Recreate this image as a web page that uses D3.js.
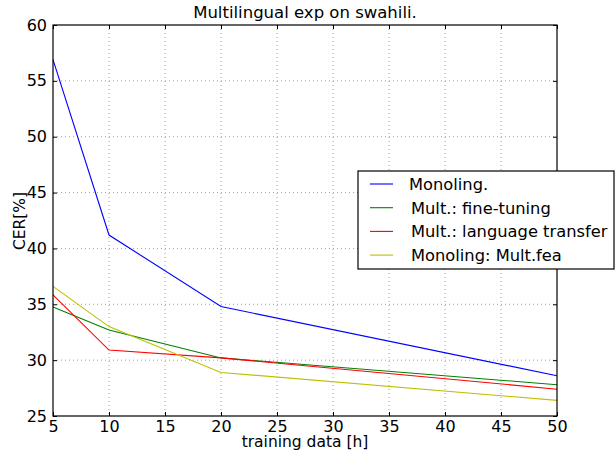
<!DOCTYPE html>
<html>
<head>
<meta charset="utf-8">
<title>Multilingual exp on swahili.</title>
<script src="https://d3js.org/d3.v7.min.js"></script>
<style>
  body { margin: 0; background: #fff; }
  text { font-family: "DejaVu Sans", sans-serif; fill: #000; }
</style>
</head>
<body>
<svg width="615" height="450"></svg>
<script>
// data
const hours = [5, 10, 20, 50]
const seriesNames = ["Monoling.", "Mult.: fine-tuning", "Mult.: language transfer", "Monoling: Mult.fea"]
const monoling = [56.9, 41.2, 34.8, 28.6]
const fineTuning = [34.75, 32.7, 30.2, 27.8]
const langTransfer = [35.85, 30.9, 30.2, 27.4]
const multFea = [36.6, 33.0, 28.9, 26.4]
const xTicks = [5, 10, 15, 20, 25, 30, 35, 40, 45, 50]
const yTicks = [25, 30, 35, 40, 45, 50, 55, 60]

const colors = ["#0000ff", "#008000", "#ff0000", "#bfbf00"]
const allSeries = [monoling, fineTuning, langTransfer, multFea]

const svg = d3.select("svg")
const margin = { top: 25, right: 58, bottom: 34, left: 53 }
const width = +svg.attr("width")
const height = +svg.attr("height")
const innerWidth = width - margin.left - margin.right
const innerHeight = height - margin.top - margin.bottom

const x = d3.scaleLinear().domain([5, 50]).range([0, innerWidth])
const y = d3.scaleLinear().domain([25, 60]).range([innerHeight, 0])

const g = svg.append("g").attr("transform", `translate(${margin.left},${margin.top})`)

// grid
g.selectAll(".gx").data(xTicks.slice(1, -1)).enter().append("line")
  .attr("x1", d => x(d)).attr("x2", d => x(d))
  .attr("y1", 0).attr("y2", innerHeight)
  .attr("stroke", "#888").attr("stroke-width", 0.8).attr("stroke-dasharray", "1,3")
g.selectAll(".gy").data(yTicks.slice(1, -1)).enter().append("line")
  .attr("y1", d => y(d)).attr("y2", d => y(d))
  .attr("x1", 0).attr("x2", innerWidth)
  .attr("stroke", "#888").attr("stroke-width", 0.8).attr("stroke-dasharray", "1,3")

// axes, ticks inward on all sides
const axisStyle = sel => {
  sel.select(".domain").remove()
  sel.selectAll("text").style("font-size", "16px").style("font-family", "DejaVu Sans, sans-serif")
  sel.selectAll("line").attr("stroke", "#000")
}
g.append("g").attr("transform", `translate(0,${innerHeight})`)
  .call(d3.axisBottom(x).tickValues(xTicks).tickSizeInner(-4).tickSizeOuter(0).tickPadding(5))
  .call(axisStyle)
g.append("g")
  .call(d3.axisTop(x).tickValues(xTicks).tickSizeInner(-4).tickSizeOuter(0).tickFormat(""))
  .call(axisStyle)
g.append("g")
  .call(d3.axisLeft(y).tickValues(yTicks).tickSizeInner(-4).tickSizeOuter(0).tickPadding(6))
  .call(axisStyle)
g.append("g").attr("transform", `translate(${innerWidth},0)`)
  .call(d3.axisRight(y).tickValues(yTicks).tickSizeInner(-4).tickSizeOuter(0).tickFormat(""))
  .call(axisStyle)

// lines
const line = d3.line().x((d, i) => x(hours[i])).y(d => y(d))
g.selectAll(".series").data(allSeries).enter().append("path")
  .attr("d", d => line(d))
  .attr("fill", "none")
  .attr("stroke", (d, i) => colors[i])
  .attr("stroke-width", 1.1)

// frame
g.append("rect").attr("width", innerWidth).attr("height", innerHeight)
  .attr("fill", "none").attr("stroke", "#000").attr("stroke-width", 1.2)

// title and labels
svg.append("text").attr("x", margin.left + innerWidth / 2).attr("y", 18)
  .attr("text-anchor", "middle").style("font-size", "16.5px").text("Multilingual exp on swahili.")
svg.append("text").attr("x", margin.left + innerWidth / 2).attr("y", 446.5)
  .attr("text-anchor", "middle").style("font-size", "15.5px").text("training data [h]")
svg.append("text").attr("transform", `translate(25,${margin.top + 196}) rotate(-90)`)
  .attr("text-anchor", "middle").style("font-size", "15.5px").text("CER[%]")

// legend
const legend = svg.append("g").attr("transform", "translate(358,171)")
legend.append("rect").attr("width", 256).attr("height", 98)
  .attr("fill", "#fff").attr("stroke", "#000").attr("stroke-width", 1.2)
seriesNames.forEach((name, i) => {
  const row = legend.append("g").attr("transform", `translate(0,${13 + i * 23.7})`)
  row.append("line").attr("x1", 12).attr("x2", 35).attr("y1", 0).attr("y2", 0)
    .attr("stroke", colors[i]).attr("stroke-width", 1.1)
  row.append("text").attr("x", i == 0 ? 51 : 53).attr("y", 6)
    .style("font-size", "16.3px").text(name)
})
</script>
</body>
</html>
